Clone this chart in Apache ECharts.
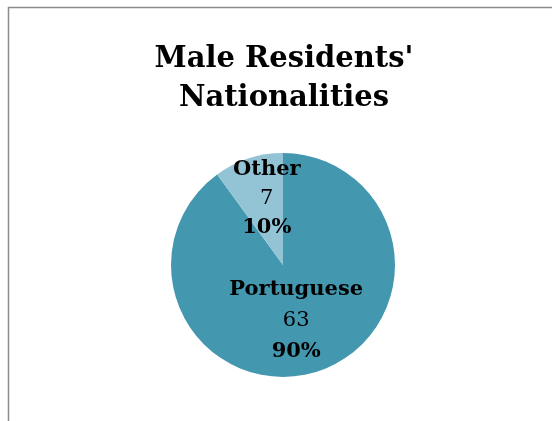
<!DOCTYPE html>
<html><head><meta charset="utf-8">
<script src="https://cdn.jsdelivr.net/npm/echarts@6/dist/echarts.min.js"></script>
<style>html,body{margin:0;padding:0;background:#fff}#c{width:552px;height:421px}</style>
</head><body><div id="c"></div>
<script>
const categories = ['Portuguese', 'Other'];
const values = [63, 7];
const percents = ['90%', '10%'];
const colors = ['#4398B0', '#93C4D5'];

const chart = echarts.init(document.getElementById('c'), null, {renderer: 'canvas'});
const ff = '"DejaVu Serif", serif';
const data = categories.map((c, i) => ({
  name: c, value: values[i],
  itemStyle: {color: colors[i]},
  label: i === 1 ? {offset: [2, -10], rich: {b: {lineHeight: 29}, v: {lineHeight: 29}, p: {lineHeight: 29}}} : {offset: [-5, -1]}
}));
chart.setOption({
  animation: false,
  graphic: [{type: 'rect', shape: {x: 8.5, y: 7.5, width: 700, height: 600},
    style: {fill: 'none', stroke: '#8c8c8c', lineWidth: 1.5}}],
  title: {
    text: "Male Residents'\nNationalities",
    left: 279, top: 35, textAlign: 'center',
    textStyle: {fontFamily: ff, fontWeight: 'bold', fontSize: 29, lineHeight: 39, color: '#000'}
  },
  series: [{
    type: 'pie', center: [283, 265], radius: 112, startAngle: 90, clockwise: true,
    data: data,
    label: {
      show: true, position: 'inside',
      formatter: p => '{b|' + p.name + '}\n{v|' + p.value + '}\n{p|' + percents[p.dataIndex] + '}',
      rich: {
        b: {fontFamily: ff, fontWeight: 'bold', fontSize: 21, color: '#000', lineHeight: 31},
        v: {fontFamily: ff, fontSize: 21, color: '#000', lineHeight: 31},
        p: {fontFamily: ff, fontWeight: 'bold', fontSize: 21, color: '#000', lineHeight: 31}
      }
    },
    labelLine: {show: false},
    emphasis: {disabled: true}
  }]
});
</script></body></html>
